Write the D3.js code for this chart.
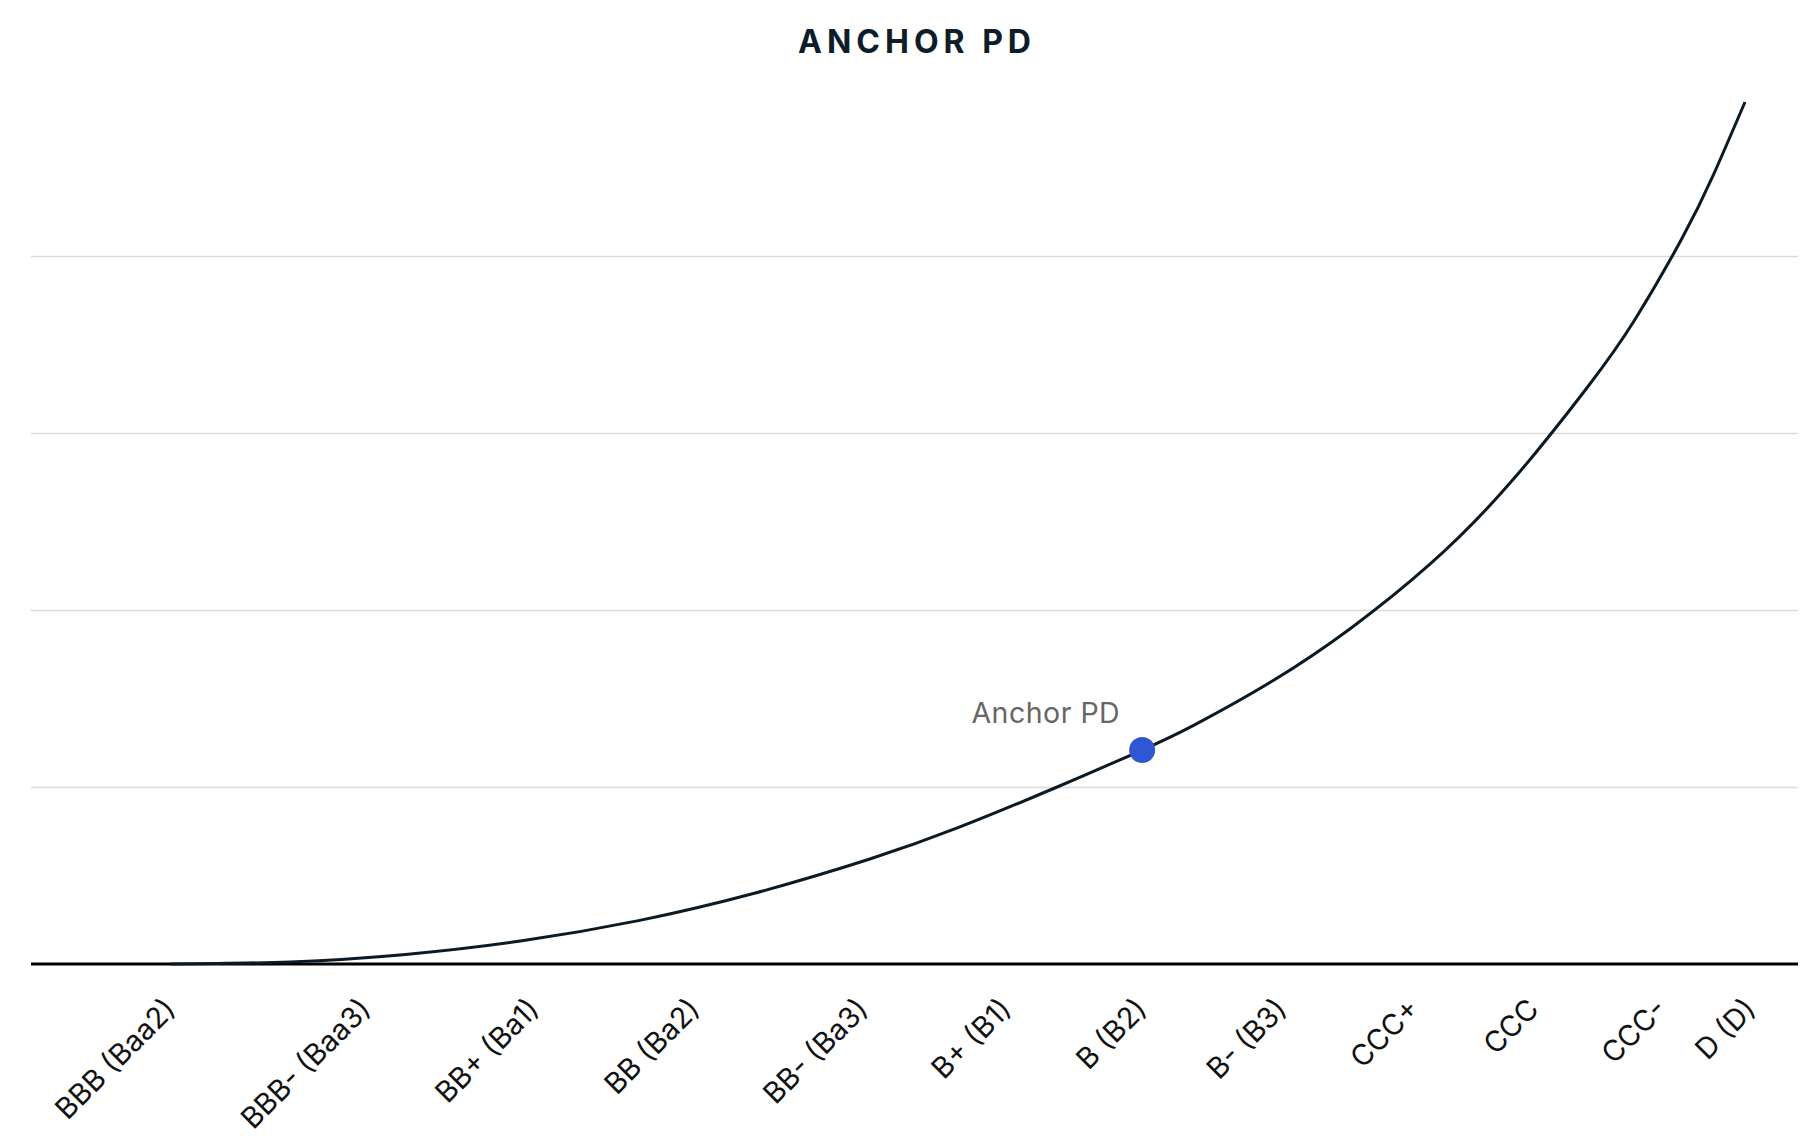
<!DOCTYPE html>
<html>
<head>
<meta charset="utf-8">
<script src="https://cdn.jsdelivr.net/npm/d3@7"></script>
<style>
  body { margin: 0; background: #fff; }
  text { font-family: Inter, "Noto Sans", sans-serif; }
</style>
</head>
<body>
<div id="chart"></div>
<script>
// rating categories and where they sit on the x axis (0 = BBB, 100 = end of curve)
const ratings = ["BBB (Baa2)", "BBB- (Baa3)", "BB+ (Ba1)", "BB (Ba2)", "BB- (Ba3)", "B+ (B1)",
  "B (B2)", "B- (B3)", "CCC+", "CCC", "CCC-", "D (D)"];
const ratingPos = [0, 12.4, 23.1, 33.3, 44.0, 53.1, 61.7, 70.6, 79.0, 86.6, 94.7, 100.4];

// PD curve (y in gridline units)
const curveX = [0, 7.6, 14.9, 22.3, 29.7, 37.0, 44.4, 50, 56.3, 61.7, 65, 70, 75, 80, 85, 90,
  93, 96, 98, 100];
const curveY = [0, 0.012, 0.054, 0.131, 0.245, 0.398, 0.593, 0.77, 1.0, 1.209, 1.35, 1.6, 1.9,
  2.26, 2.71, 3.26, 3.64, 4.1, 4.46, 4.87];

const anchorRating = "B (B2)";
const anchorValue = 1.209;
const anchorLabel = "Anchor PD";
const gridValues = [1, 2, 3, 4];
const title = "ANCHOR PD";

const width = 1820;
const height = 1140;
const plot = { left: 31, right: 1798, top: 79, bottom: 964 };

const svg = d3.select("#chart")
  .append("svg")
    .attr("width", width)
    .attr("height", height);

const x = d3.scaleLinear()
  .domain([0, 100])
  .range([171, 1745]);

const y = d3.scaleLinear()
  .domain([0, 5])
  .range([plot.bottom, plot.top]);

// title
svg.append("text")
  .attr("x", 917)
  .attr("y", 53)
  .attr("text-anchor", "middle")
  .attr("font-size", 32)
  .attr("font-weight", 700)
  .attr("letter-spacing", 5)
  .attr("fill", "#0e1d29")
  .text(title);

// horizontal gridlines
const yAxis = d3.axisLeft(y)
  .tickValues(gridValues)
  .tickSize(-(plot.right - plot.left))
  .tickFormat("");
svg.append("g")
  .attr("class", "grid")
  .attr("transform", `translate(${plot.left}, 0)`)
  .call(yAxis)
  .call(g => g.select(".domain").remove())
  .call(g => g.selectAll("line")
    .attr("stroke", "#dadada")
    .attr("stroke-width", 1.5));

// x axis with rotated rating labels
const tickMap = new Map(ratings.map((r, i) => [ratingPos[i], r]));
const xAxis = d3.axisBottom(x)
  .tickValues(ratingPos)
  .tickSize(0)
  .tickFormat(d => tickMap.get(d));
svg.append("g")
  .attr("class", "xAxis")
  .attr("transform", `translate(0, ${plot.bottom})`)
  .call(xAxis)
  .call(g => g.select(".domain").remove())
  .selectAll("text")
    .attr("y", 0)
    .attr("dy", 0)
    .attr("transform", "translate(6, 47) rotate(-45)")
    .attr("text-anchor", "end")
    .attr("font-size", 29)
    .attr("font-family", "Inter, sans-serif")
    .attr("fill", "#111");

// baseline
svg.append("line")
  .attr("x1", plot.left)
  .attr("x2", plot.right)
  .attr("y1", y(0))
  .attr("y2", y(0))
  .attr("stroke", "#000")
  .attr("stroke-width", 3);

// curve
const points = curveX.map((d, i) => [d, curveY[i]]);
const line = d3.line()
  .x(d => x(d[0]))
  .y(d => y(d[1]))
  .curve(d3.curveNatural);
svg.append("path")
  .datum(points)
  .attr("fill", "none")
  .attr("stroke", "#0b1a25")
  .attr("stroke-width", 3)
  .attr("d", line);

// anchor point
const ax = x(ratingPos[ratings.indexOf(anchorRating)]);
const ay = y(anchorValue);
svg.append("circle")
  .attr("cx", ax)
  .attr("cy", ay)
  .attr("r", 13)
  .attr("fill", "#2d58d1");

svg.append("text")
  .attr("x", ax - 22)
  .attr("y", ay - 27)
  .attr("text-anchor", "end")
  .attr("font-size", 28.5)
  .attr("letter-spacing", 0.5)
  .attr("fill", "#666")
  .text(anchorLabel);
</script>
</body>
</html>
